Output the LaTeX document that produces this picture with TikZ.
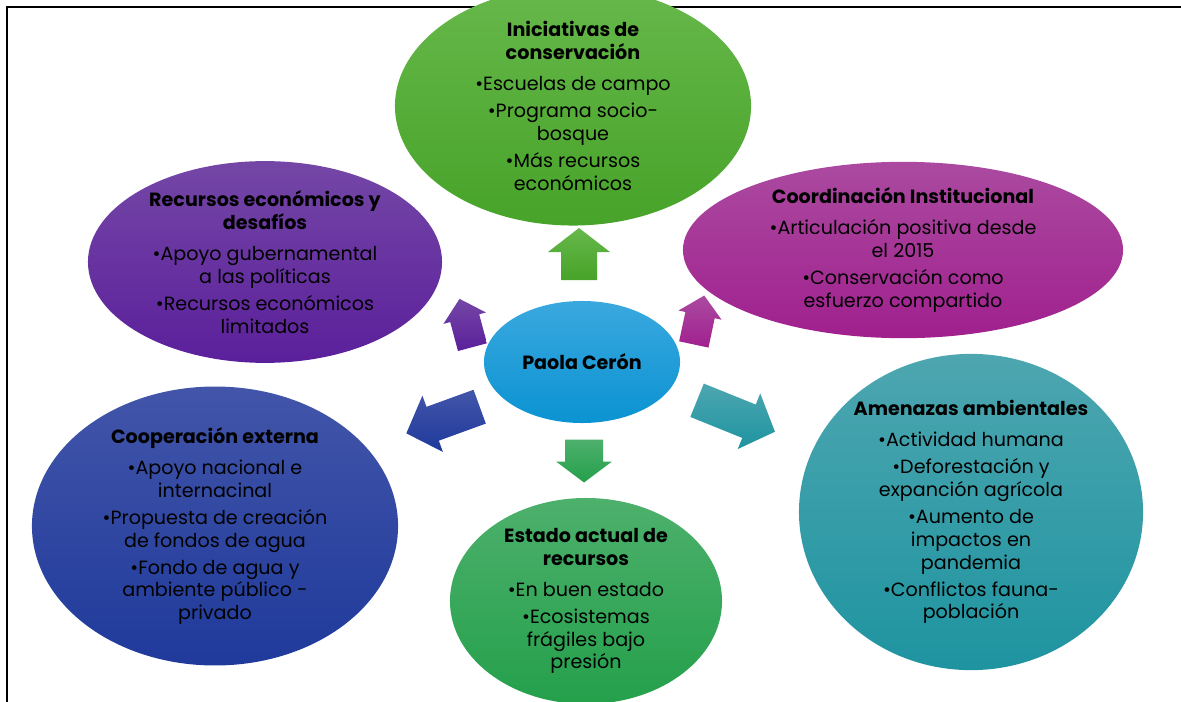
\documentclass[tikz,border=0pt]{standalone}
\usepackage{fontspec}
\setmainfont{Poppins}
\usepackage{xcolor}
\usepackage{tikz}
\usetikzlibrary{shapes.geometric}

\definecolor{verdeA}{HTML}{66B84A}
\definecolor{verdeB}{HTML}{47A329}
\definecolor{moradoA}{HTML}{7447A6}
\definecolor{moradoB}{HTML}{5B1F9B}
\definecolor{magentaA}{HTML}{AB4AA0}
\definecolor{magentaB}{HTML}{A0208E}
\definecolor{celesteA}{HTML}{3AA8DF}
\definecolor{celesteB}{HTML}{0B93D2}
\definecolor{azulA}{HTML}{4255A9}
\definecolor{azulB}{HTML}{1F3A9B}
\definecolor{esmeraldaA}{HTML}{4DB06C}
\definecolor{esmeraldaB}{HTML}{24A04B}
\definecolor{turquesaA}{HTML}{4DA6B0}
\definecolor{turquesaB}{HTML}{1E94A0}

\newcommand{\tit}[1]{\textbf{#1}}
\newcommand{\vin}{\textbullet}

\tikzset{
  pics/flecha/.style args = {#1/#2/#3/#4}{code = {
    \path[pic actions] (-#1/2,-#2) -- (#1/2-#3,-#2) -- (#1/2-#3,-#4) -- (#1/2,0)
      -- (#1/2-#3,#4) -- (#1/2-#3,#2) -- (-#1/2,#2) -- cycle;
  }}
}

\begin{document}
\begin{tikzpicture}[x=0.025cm, y=-0.025cm,
                burbuja/.style = { ellipse, inner sep=0pt, outer sep=0pt, align=center, text=black, font=\fontsize{13.6}{16.2}\selectfont },
                centro/.style = { burbuja, font=\fontsize{13.6}{16.2}\selectfont\bfseries },
                marco/.style = { line width=1.9pt, black },
            ]
    \useasboundingbox (0,0) rectangle (1181,702);
    \draw[marco] (7,702) -- (7,7) -- (1181,7);

    % burbujas
    \node[burbuja, minimum width=8.9cm, minimum height=4.7cm, top color=verdeA, bottom color=verdeB] (iniciativas) at (573,106)
        {\tit{Iniciativas de}\\\tit{conservación}\\[6pt]
         \vin Escuelas de campo\\[3pt]
         \vin Programa socio-\\bosque\\[3pt]
         \vin Más recursos\\económicos};
    \node[burbuja, minimum width=8.85cm, minimum height=4.8cm, top color=moradoA, bottom color=moradoB] (recursos) at (265,262)
        {\tit{Recursos económicos y}\\\tit{desafíos}\\[6pt]
         \vin Apoyo gubernamental\\a las políticas\\[3pt]
         \vin Recursos económicos\\limitados};
    \node[burbuja, minimum width=11cm, minimum height=4.25cm, top color=magentaA, bottom color=magentaB] (coordinacion) at (903,250)
        {\tit{Coordinación Institucional}\\[6pt]
         \vin Articulación positiva desde\\el 2015\\[3pt]
         \vin Conservación como\\esfuerzo compartido};
    \node[centro, minimum width=4.9cm, minimum height=3.05cm, top color=celesteA, bottom color=celesteB] (paola) at (582,362) {Paola Cerón};
    \node[burbuja, minimum width=9.15cm, minimum height=6.45cm, top color=azulA, bottom color=azulB] (cooperacion) at (215,526)
        {\tit{Cooperación externa}\\[6pt]
         \vin Apoyo nacional e\\internacinal\\[3pt]
         \vin Propuesta de creación\\de fondos de agua\\[3pt]
         \vin Fondo de agua y\\ambiente público -\\privado};
    \node[burbuja, minimum width=6.8cm, minimum height=4.85cm, top color=esmeraldaA, bottom color=esmeraldaB] (estado) at (586,601)
        {\tit{Estado actual de}\\\tit{recursos}\\[6pt]
         \vin En buen estado\\[3pt]
         \vin Ecosistemas\\frágiles bajo\\presión};
    \node[burbuja, minimum width=8.6cm, minimum height=7.25cm, top color=turquesaA, bottom color=turquesaB] (amenazas) at (971,512)
        {\tit{Amenazas ambientales}\\[6pt]
         \vin Actividad humana\\[3pt]
         \vin Deforestación y\\expanción agrícola\\[3pt]
         \vin Aumento de\\impactos en\\pandemia\\[3pt]
         \vin Conflictos fauna-\\población};

    % flechas
    \pic[rotate=90, top color=verdeA, bottom color=verdeB] (fIniciativas) at (579,254) {flecha=52/18/24/31};
    \pic[rotate=105, top color=moradoA, bottom color=moradoB] (fRecursos) at (466,323) {flecha=50/15/20/22};
    \pic[rotate=78, top color=magentaA, bottom color=magentaB] (fCoordinacion) at (699,320) {flecha=50/15/20/22};
    \pic[rotate=200, top color=azulA, bottom color=azulB] (fCooperacion) at (443,420) {flecha=78/18/28/30};
    \pic[rotate=-90, top color=esmeraldaA, bottom color=esmeraldaB] (fEstado) at (584,461) {flecha=43/19/21/28};
    \pic[rotate=-22, top color=turquesaA, bottom color=turquesaB] (fAmenazas) at (736,416) {flecha=84/18/28/30};
\end{tikzpicture}
\end{document}
